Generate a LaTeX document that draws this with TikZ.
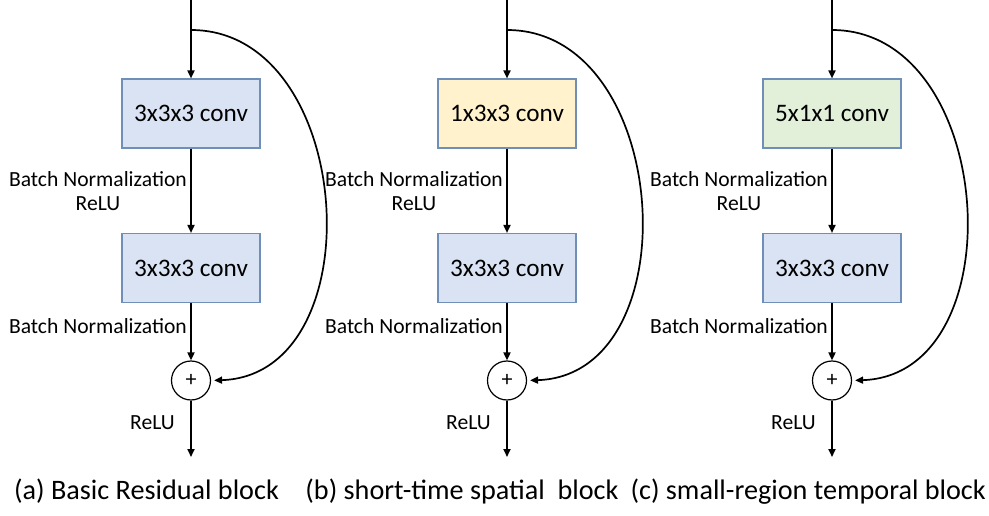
\documentclass[tikz,border=0pt]{standalone}
\usepackage{fontspec}
\setmainfont{Carlito}
\usetikzlibrary{arrows.meta}

\definecolor{convblue}{HTML}{DAE3F3}
\definecolor{convyellow}{HTML}{FFF2CC}
\definecolor{convgreen}{HTML}{E2F0D9}
\definecolor{convedge}{HTML}{6F8FB8}

\tikzset{
  conv/.style={draw=convedge, line width=1.1pt, minimum width=138pt,
    minimum height=69pt, inner sep=0pt, font=\fontsize{25.2}{29}\selectfont},
  lbl/.style={inner sep=0pt, font=\fontsize{21.6}{25}\selectfont},
  captext/.style={inner sep=0pt, font=\fontsize{28.2}{33}\selectfont},
  adder/.style={circle, draw, line width=1.2pt, minimum size=39pt,
    inner sep=0pt, font=\fontsize{22}{24}\selectfont},
  flow/.style={line width=1.7pt, -{Triangle[length=8pt,width=7pt]}},
}

% One residual unit: #1 name prefix, #2 centre x, #3 first conv text, #4 its fill
\newcommand{\resblk}[4]{%
  \coordinate (#1-in) at (#2,0);
  \coordinate (#1-br) at (#2,30);
  \coordinate (#1-out) at (#2,457);
  \node[conv, fill=#4] (#1-c1) at (#2,113.5) {#3};
  \node[conv, fill=convblue] (#1-c2) at (#2,268) {3x3x3 conv};
  \node[adder] (#1-add) at (#2,380.5) {+};
  \node[lbl, anchor=base east] (#1-bn1) at (#2-4,187) {Batch Normalization};
  \node[lbl, anchor=base] (#1-relu1) at ([yshift=-24pt]#1-bn1.base) {ReLU};
  \node[lbl, anchor=base east] (#1-bn2) at (#2-4,333) {Batch Normalization};
  \node[lbl, anchor=base east] (#1-relu2) at (#2-16,429) {ReLU};
  \draw[flow] (#1-in) -- (#1-c1);
  \draw[flow] (#1-c1) -- (#1-c2);
  \draw[flow] (#1-c2) -- (#1-add);
  \draw[flow] (#1-add) -- (#1-out);
  \draw[flow, shorten >=3pt] (#1-br) .. controls (#2+165,30) and (#2+185,375) .. (#1-add.east);
}

\begin{document}
\begin{tikzpicture}[x=1pt, y=-1pt]
  \useasboundingbox (0,0) rectangle (989,516);
  \resblk{a}{191}{3x3x3 conv}{convblue}
  \resblk{b}{507}{1x3x3 conv}{convyellow}
  \resblk{c}{832}{5x1x1 conv}{convgreen}
  \node[captext, anchor=base] (cap-a) at (146.5,499) {(a) Basic Residual block};
  \node[captext, anchor=base] (cap-b) at (462,499) {(b) short-time spatial\ \ block};
  \node[captext, anchor=base east] (cap-c) at (986,499) {(c) small-region temporal block};
\end{tikzpicture}
\end{document}
